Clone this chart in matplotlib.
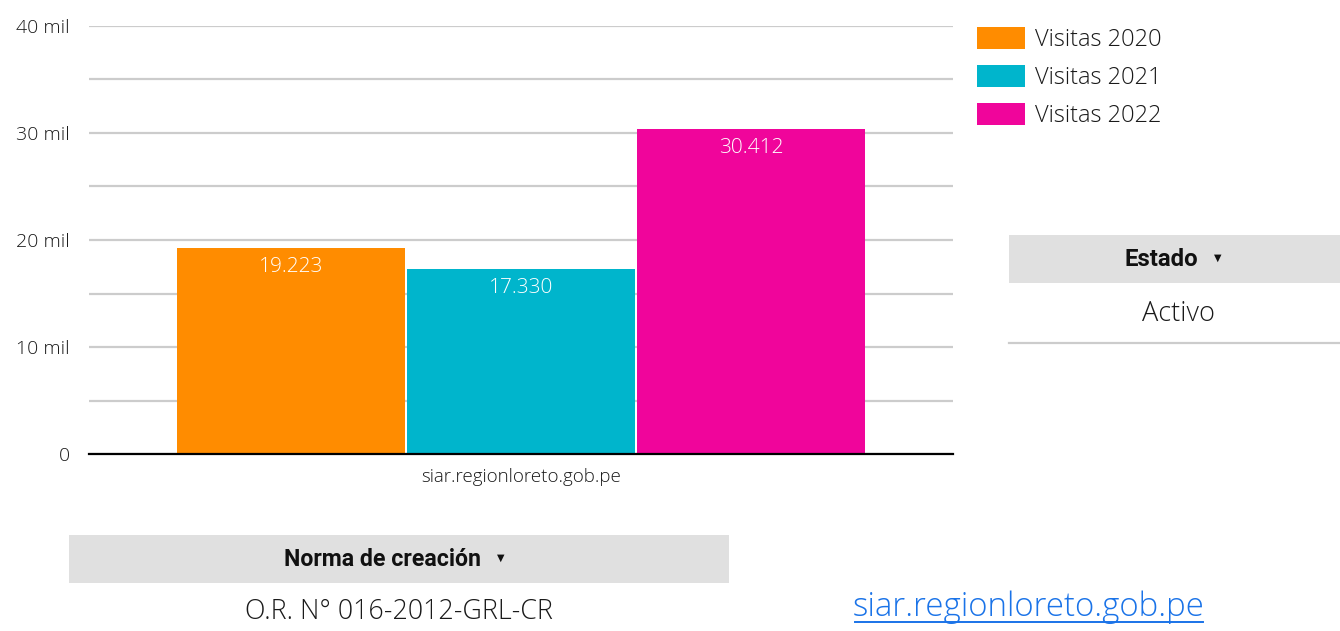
import matplotlib
matplotlib.use("Agg")
import matplotlib.pyplot as plt
from matplotlib.patches import Rectangle
from matplotlib.lines import Line2D

# ---- data ----
series = ["Visitas 2020", "Visitas 2021", "Visitas 2022"]
values = [19223, 17330, 30412]
value_labels = ["19.223", "17.330", "30.412"]
colors = ["#FF8C00", "#00B5CC", "#F0059B"]
category = "siar.regionloreto.gob.pe"
yticks = [0, 10000, 20000, 30000, 40000]
ytick_labels = ["0", "10 mil", "20 mil", "30 mil", "40 mil"]
minor_ticks = [5000, 15000, 25000, 35000]

FONT = ["Open Sans", "DejaVu Sans"]
BOLD = ["Roboto", "DejaVu Sans"]
plt.rcParams["font.family"] = FONT
plt.rcParams["font.weight"] = "light"

W, H = 1340, 631
fig = plt.figure(figsize=(W / 100, H / 100), dpi=100)

def fx(px):
    return px / W

def fy(py):
    return 1 - py / H

ax = fig.add_axes([fx(89), fy(454), fx(953) - fx(89), fy(26) - fy(454)])

bw = 228 / 864
step = 230 / 864
offsets = [-step, 0, step]
for s, v, lab, c, o in zip(series, values, value_labels, colors, offsets):
    ax.bar(o, v, width=bw, color=c, label=s, zorder=3)
    ax.text(o, v - 850, lab, ha="center", va="top", color="white",
            fontsize=15, zorder=4)

ax.set_xlim(-0.5, 0.5)
ax.set_ylim(0, 40000)
ax.set_yticks(yticks)
ax.set_yticklabels(ytick_labels, fontsize=14, color="#1a1a1a")
ax.set_yticks(minor_ticks, minor=True)
ax.set_xticks([0])
ax.set_xticklabels([category], fontsize=13.5, color="#1a1a1a")
ax.tick_params(axis="both", which="both", length=0)
ax.tick_params(axis="y", pad=14)
ax.tick_params(axis="x", pad=10)
ax.grid(axis="y", which="both", color="#cccccc", linewidth=1.6, zorder=0)
for sp in ["top", "right", "left"]:
    ax.spines[sp].set_visible(False)
ax.spines["bottom"].set_linewidth(1.6)
ax.spines["bottom"].set_color("black")
ax.spines["bottom"].set_zorder(5)

handles, labels = ax.get_legend_handles_labels()
fig.legend(handles, labels, loc="upper left", bbox_to_anchor=(fx(977), fy(27)),
           frameon=False, fontsize=17, handlelength=2.05, handleheight=1.05,
           handletextpad=0.4, labelspacing=0.55, borderaxespad=0, borderpad=0,
           labelcolor="#1a1a1a")

# Estado filter box
fig.patches.append(Rectangle((fx(1009), fy(283)), fx(1340) - fx(1009), fy(235) - fy(283),
                             transform=fig.transFigure, facecolor="#e0e0e0",
                             edgecolor="none"))
fig.text(fx(1161), fy(259), "Estado", ha="center", va="center", fontsize=17.3,
         fontweight="bold", family=BOLD, color="#111111")
fig.text(fx(1218), fy(258), "\u25BC", ha="center", va="center", fontsize=7,
         fontweight="normal", family=["DejaVu Sans"], color="#111111")
fig.text(fx(1179), fy(314), "Activo", ha="center", va="center", fontsize=19.5,
         color="#1a1a1a")
fig.lines.append(Line2D([fx(1009), fx(1340)], [fy(343), fy(343)], transform=fig.transFigure,
                        color="#cccccc", linewidth=1.6))

# Norma de creación box
fig.patches.append(Rectangle((fx(69), fy(583)), fx(729) - fx(69), fy(535) - fy(583),
                             transform=fig.transFigure, facecolor="#e0e0e0",
                             edgecolor="none"))
fig.text(fx(382), fy(559), "Norma de creación", ha="center", va="center", fontsize=16.7,
         fontweight="bold", family=BOLD, color="#111111")
fig.text(fx(501), fy(558), "\u25BC", ha="center", va="center", fontsize=7,
         fontweight="normal", family=["DejaVu Sans"], color="#111111")
fig.text(fx(399), fy(612), "O.R. N° 016-2012-GRL-CR", ha="center", va="center",
         fontsize=19.3, color="#1a1a1a")

# Link
fig.text(fx(1029), fy(607), "siar.regionloreto.gob.pe", ha="center", va="center",
         fontsize=23.8, color="#1a73e8")
fig.lines.append(Line2D([fx(855), fx(1203)], [fy(622), fy(622)], transform=fig.transFigure,
                        color="#1a73e8", linewidth=1.4))

fig.savefig("out.png", dpi=100, facecolor="white")
